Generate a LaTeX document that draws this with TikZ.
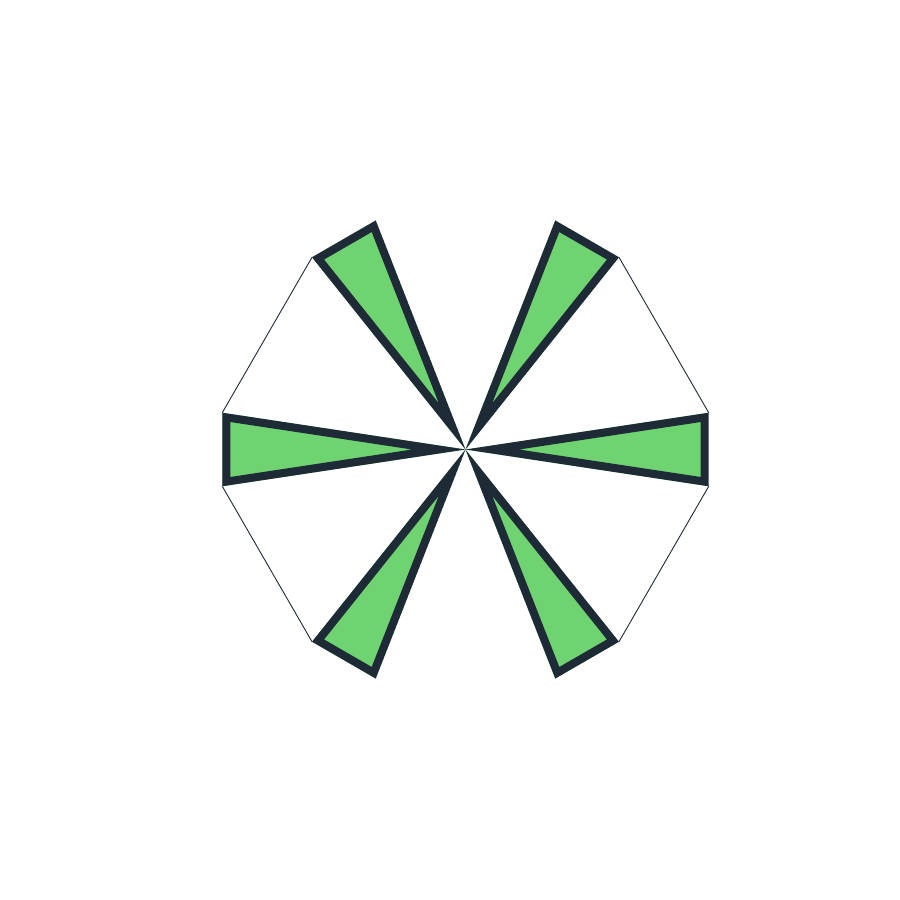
\documentclass[tikz,border=0pt]{standalone}
\usetikzlibrary{calc}
\definecolor{wedgegreen}{HTML}{6FD372}
\definecolor{wedgedark}{HTML}{1F2A37}
\begin{document}
\begin{tikzpicture}[x=1pt,y=-1pt,
  thinedge/.style={draw=wedgedark,line width=0.9pt},
  wedgeborder/.style={draw=wedgedark,line width=16pt,line join=miter}]
\useasboundingbox (0,0) rectangle (900,900);
\coordinate (c) at (465.5,449.5);
\def\R{246}
\def\H{8.6}
\foreach \a in {0,60,120,180,240,300}{
  \coordinate (p\a) at ($(c)+({\R*cos(\a+\H)},{-\R*sin(\a+\H)})$);
  \coordinate (q\a) at ($(c)+({\R*cos(\a-\H)},{-\R*sin(\a-\H)})$);
}
% thin outer edges
\draw[thinedge] (p120) -- (q180);
\draw[thinedge] (p180) -- (q240);
\draw[thinedge] (p300) -- (q0);
\draw[thinedge] (p0) -- (q60);
% wedges
\foreach \a in {0,60,120,180,240,300}{
  \begin{scope}
    \clip (c) -- (p\a) -- (q\a) -- cycle;
    \fill[wedgegreen] (c) -- (p\a) -- (q\a) -- cycle;
    \draw[wedgeborder] (c) -- (p\a) -- (q\a) -- cycle;
  \end{scope}
}
\end{tikzpicture}
\end{document}
